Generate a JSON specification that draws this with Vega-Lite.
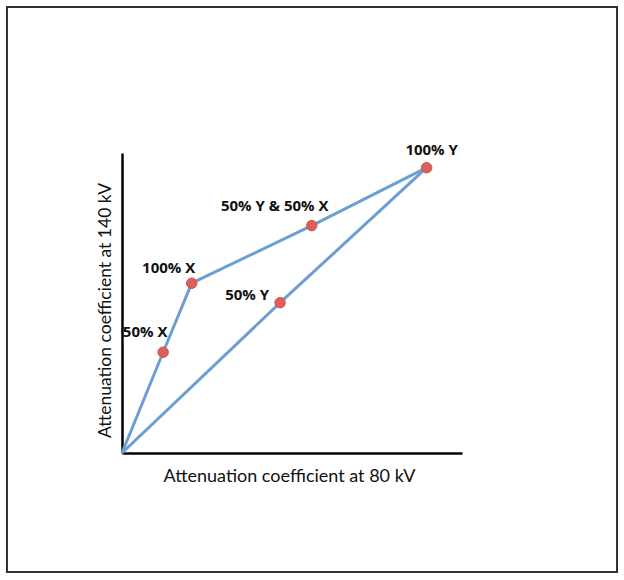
{
  "$schema": "https://vega.github.io/schema/vega-lite/v6.json",
  "width": 340,
  "height": 300,
  "autosize": {"type": "none"},
  "padding": {"left": 122, "top": 153, "right": 162, "bottom": 127},
  "background": "white",
  "config": {"view": {"stroke": null}},
  "data": {
    "values": [
      {"path": "A", "order": 0, "x": 0, "y": 0, "label": ""},
      {"path": "A", "order": 1, "x": 1.21, "y": 3.36, "label": "50% X"},
      {"path": "A", "order": 2, "x": 2.05, "y": 5.66, "label": "100% X"},
      {"path": "A", "order": 3, "x": 5.58, "y": 7.58, "label": "50% Y & 50% X"},
      {"path": "A", "order": 4, "x": 8.96, "y": 9.51, "label": "100% Y"},
      {"path": "B", "order": 0, "x": 0, "y": 0, "label": ""},
      {"path": "B", "order": 1, "x": 4.65, "y": 5.01, "label": "50% Y"},
      {"path": "B", "order": 2, "x": 8.96, "y": 9.51, "label": ""}
    ]
  },
  "encoding": {
    "x": {
      "field": "x", "type": "quantitative",
      "scale": {"domain": [0, 10], "nice": false, "zero": false},
      "axis": {
        "title": "Attenuation coefficient at 80 kV",
        "labels": false, "ticks": false, "grid": false,
        "domainColor": "#000", "domainWidth": 2.5,
        "titleFont": "Lato", "titleFontSize": 18, "titleFontWeight": "normal",
        "titleColor": "#111", "titleX": 167, "titleY": 23, "titleBaseline": "middle"
      }
    },
    "y": {
      "field": "y", "type": "quantitative",
      "scale": {"domain": [0, 10], "nice": false, "zero": false},
      "axis": {
        "title": "Attenuation coefficient at 140 kV",
        "labels": false, "ticks": false, "grid": false,
        "domainColor": "#000", "domainWidth": 2.5,
        "titleFont": "Lato", "titleFontSize": 17.5, "titleFontWeight": "normal",
        "titleColor": "#111", "titleX": -17, "titleY": 157, "titleBaseline": "middle"
      }
    }
  },
  "layer": [
    {
      "mark": {"type": "rect", "fill": null, "stroke": "#333", "strokeWidth": 1.5, "clip": false},
      "encoding": {
        "x": {"datum": -3.382, "type": "quantitative"},
        "x2": {"datum": 14.559},
        "y": {"datum": 14.867, "type": "quantitative"},
        "y2": {"datum": -3.967}
      }
    },
    {
      "mark": {"type": "line", "color": "#6b9fd3", "strokeWidth": 3, "clip": false},
      "encoding": {
        "detail": {"field": "path"},
        "order": {"field": "order"}
      }
    },
    {
      "transform": [{"filter": "datum.label != ''"}],
      "mark": {"type": "circle", "color": "#de5f58", "opacity": 1, "size": 110, "stroke": "#c9554f", "strokeWidth": 1, "clip": false}
    },
    {
      "transform": [{"filter": "datum.label == '100% Y'"}],
      "mark": {"type": "text", "font": "Open Sans", "fontWeight": "bold", "fontSize": 15, "color": "#111", "dx": 5, "dy": -18},
      "encoding": {"text": {"field": "label"}}
    },
    {
      "transform": [{"filter": "datum.label == '50% Y & 50% X'"}],
      "mark": {"type": "text", "font": "Open Sans", "fontWeight": "bold", "fontSize": 15, "color": "#111", "dx": -37, "dy": -20},
      "encoding": {"text": {"field": "label"}}
    },
    {
      "transform": [{"filter": "datum.label == '100% X'"}],
      "mark": {"type": "text", "font": "Open Sans", "fontWeight": "bold", "fontSize": 15, "color": "#111", "dx": -23, "dy": -15},
      "encoding": {"text": {"field": "label"}}
    },
    {
      "transform": [{"filter": "datum.label == '50% X'"}],
      "mark": {"type": "text", "font": "Open Sans", "fontWeight": "bold", "fontSize": 15, "color": "#111", "dx": -18, "dy": -20},
      "encoding": {"text": {"field": "label"}}
    },
    {
      "transform": [{"filter": "datum.label == '50% Y'"}],
      "mark": {"type": "text", "font": "Open Sans", "fontWeight": "bold", "fontSize": 15, "color": "#111", "dx": -33, "dy": -8},
      "encoding": {"text": {"field": "label"}}
    }
  ]
}
